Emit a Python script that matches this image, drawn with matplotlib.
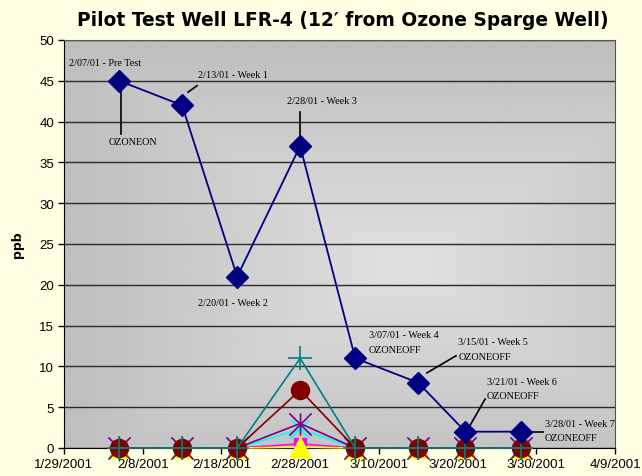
import datetime as dt
import numpy as np
import matplotlib
matplotlib.use("Agg")
import matplotlib.pyplot as plt
import matplotlib.dates as mdates
from matplotlib.path import Path

# ---------------- data ----------------
dates = [dt.date(2001, 2, 5), dt.date(2001, 2, 13), dt.date(2001, 2, 20), dt.date(2001, 2, 28),
         dt.date(2001, 3, 7), dt.date(2001, 3, 15), dt.date(2001, 3, 21), dt.date(2001, 3, 28)]
navy_vals = [45, 42, 21, 37, 11, 8, 2, 2]
magenta_vals = [0, 0, 0, 0.5, 0, 0, 0, 0]
yellow_vals = [0, 0, 0, 0.1, 0, 0, 0, 0]
cyan_vals = [0, 0, 0, 2.3, 0, 0, 0, 0]
purple_vals = [0, 0, 0, 3.0, 0, 0, 0, 0]
maroon_vals = [0, 0, 0, 7.1, 0, 0, 0, 0]
teal_vals = [0, 0, 0, 11, 0, 0, 0, 0]

x_start = dt.date(2001, 1, 29)
x_end = dt.date(2001, 4, 9)
tick_dates = [x_start + dt.timedelta(days=10 * i) for i in range(8)]
tick_labels = [f"{d.month}/{d.day}/{d.year}" for d in tick_dates]

# (label, second line or None, text pos (days from 1/29, ppb))
notes = [
    ("2/07/01 - Pre Test", None, (0.6, 47.2)),
    ("OZONEON", None, (5.7, 37.5)),
    ("2/13/01 - Week 1", None, (17.0, 45.8)),
    ("2/20/01 - Week 2", None, (17.0, 17.8)),
    ("2/28/01 - Week 3", None, (28.3, 42.6)),
    ("3/07/01 - Week 4", "OZONEOFF", (38.75, 13.85)),
    ("3/15/01 - Week 5", "OZONEOFF", (50.1, 13.0)),
    ("3/21/01 - Week 6", "OZONEOFF", (53.7, 8.2)),
    ("3/28/01 - Week 7", "OZONEOFF", (61.1, 3.06)),
]
# leader lines: ((days, ppb), (days, ppb))
leaders = [
    ((7.2, 44.0), (7.2, 38.5)),
    ((15.75, 43.6), (16.9, 44.4)),
    ((30.0, 41.2), (30.0, 37.9)),
    ((46.1, 9.2), (49.8, 11.3)),
    ((51.6, 2.8), (53.5, 6.0)),
    ((59.3, 1.96), (60.9, 1.96)),
]


def day(d):
    return mdates.date2num(x_start) + d


# ---------------- figure ----------------
bg = "#FFFFE3"
fig = plt.figure(figsize=(6.42, 4.77), dpi=100, facecolor=bg)
ax = fig.add_axes([64 / 642, 28 / 477, 551 / 642, 408 / 477])

# gray gradient plot area, lighter toward the middle
ny, nx = 200, 300
yy, xx = np.mgrid[0:1:ny * 1j, 0:1:nx * 1j]
dist = np.maximum(np.abs(xx - 0.62) / 0.62, np.abs(yy - 0.45) / 0.55)
dist = np.clip(dist, 0, 1)
grad = 0.88 - 0.135 * dist
ax.imshow(grad, extent=[0, 1, 0, 1], transform=ax.transAxes, cmap="gray",
          vmin=0, vmax=1, aspect="auto", zorder=0, origin="lower")

xd = mdates.date2num(dates)

star = Path([(0, -1), (0, 1), (-1, -1), (1, 1), (-1, 1), (1, -1)],
            [Path.MOVETO, Path.LINETO, Path.MOVETO, Path.LINETO, Path.MOVETO, Path.LINETO])

ax.plot(xd, magenta_vals, color="#FF00FF", lw=1.2, marker="s", ms=9,
        mec="#FF00FF", mfc="#FF00FF", clip_on=False, zorder=3)
ax.plot(xd, yellow_vals, color="#FFFF00", lw=1.2, marker="^", ms=14,
        mec="#FFFF00", mfc="#FFFF00", clip_on=False, zorder=3.1)
ax.plot(xd, cyan_vals, color="#00FFFF", lw=1.2, marker="x", ms=13, mew=1.2,
        mec="#00FFFF", clip_on=False, zorder=3.2)
ax.plot(xd, purple_vals, color="#800080", lw=1.2, marker=star, ms=16, mew=1.2,
        mec="#800080", clip_on=False, zorder=3.3)
ax.plot(xd, maroon_vals, color="#800000", lw=1.2, marker="o", ms=13,
        mec="#800000", mfc="#800000", clip_on=False, zorder=3.4)
ax.plot(xd, teal_vals, color="#008080", lw=1.2, marker="+", ms=17, mew=1.2,
        mec="#008080", clip_on=False, zorder=3.5)
ax.plot(xd, navy_vals, color="#000080", lw=1.3, marker="D", ms=11,
        mec="#000080", mfc="#000080", clip_on=False, zorder=4)

for (x0, y0), (x1, y1) in leaders:
    ax.plot([day(x0), day(x1)], [y0, y1], color="black", lw=1.2, zorder=3.9)

for label, sub, (tx, ty) in notes:
    ax.text(day(tx), ty, label, fontsize=7.3, family="Liberation Serif",
            ha="left", va="center", zorder=5)
    if sub:
        ax.text(day(tx), ty - 1.8, sub, fontsize=7.3, family="Liberation Serif",
                ha="left", va="center", zorder=5)

ax.set_xlim(mdates.date2num(x_start), mdates.date2num(x_end))
ax.set_ylim(0, 50)
ax.set_xticks(mdates.date2num(tick_dates))
ax.set_xticklabels(tick_labels, fontsize=9.5, family="Liberation Sans")
ax.set_yticks(np.arange(0, 51, 5))
ax.set_yticklabels([str(v) for v in range(0, 51, 5)], fontsize=9.5, family="Liberation Sans")
ax.tick_params(length=4, width=1, color="black", pad=3)

ax.grid(axis="y", color="#2a2a2a", lw=1)
ax.set_axisbelow(True)
for s in ["top", "right"]:
    ax.spines[s].set_color("#555555")
for s in ["left", "bottom"]:
    ax.spines[s].set_color("black")

ax.set_ylabel("ppb", fontsize=9, fontweight="bold", family="DejaVu Sans", labelpad=11)
fig.text(343 / 642, 1 - 20 / 477, "Pilot Test Well LFR-4 (12\u2032 from Ozone Sparge Well)",
         ha="center", va="center", fontsize=13.4, fontweight="bold", family="DejaVu Sans")

fig.savefig("out.png", dpi=100, facecolor=bg)
